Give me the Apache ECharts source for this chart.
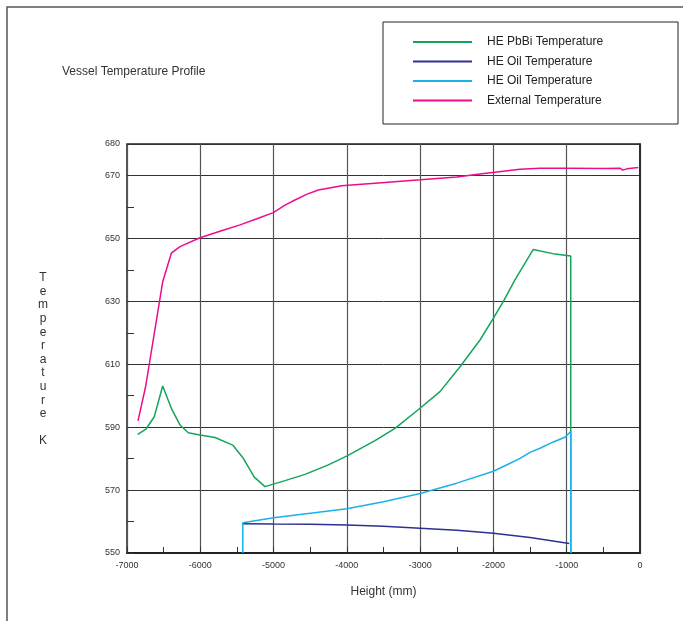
<!DOCTYPE html>
<html>
<head>
<meta charset="utf-8">
<script src="https://cdn.jsdelivr.net/npm/echarts@6/dist/echarts.min.js"></script>
<style>html,body{margin:0;padding:0;background:#fff}#c{width:683px;height:621px}</style>
</head>
<body>
<div id="c"></div>
<script>
// Legend names (second oil entry gets a trailing space so the legend keeps both; trimmed on display)
var seriesNames = ['HE PbBi Temperature', 'HE Oil Temperature', 'HE Oil Temperature ', 'External Temperature'];
var pbbi = [[-6854,587.7],[-6741,589.4],[-6628,593.3],[-6513,603.1],[-6390,595.7],[-6277,590.7],[-6164,588.2],[-6004,587.5],[-5799,586.7],[-5558,584.3],[-5413,580.1],[-5263,574.1],[-5117,571.1],[-4844,573.0],[-4571,575.0],[-4253,578.0],[-4003,580.8],[-3616,585.7],[-3343,589.6],[-3002,596.0],[-2729,601.3],[-2456,609.2],[-2183,617.7],[-2002,624.6],[-1866,629.9],[-1706,636.8],[-1456,646.5],[-1160,645.0],[-945,644.4],[-945,550]];
var oilDark = [[-5420,559.3],[-5000,559.2],[-4500,559.1],[-4000,558.9],[-3500,558.5],[-3000,557.9],[-2500,557.2],[-2000,556.3],[-1500,554.9],[-965,553.0]];
var oilLight = [[-5420,550],[-5420,559.6],[-5000,561.2],[-4500,562.6],[-4000,564.1],[-3500,566.3],[-3000,568.9],[-2500,572.2],[-2000,576.0],[-1800,578.2],[-1638,580.1],[-1500,582.0],[-1365,583.3],[-1183,585.3],[-1024,586.8],[-945,588.6],[-945,550]];
var external = [[-6850,592],[-6745,603],[-6513,636.2],[-6395,645.3],[-6277,647.4],[-6004,650.2],[-5700,652.5],[-5458,654.3],[-5200,656.5],[-5004,658.2],[-4850,660.5],[-4708,662.2],[-4550,664],[-4390,665.4],[-4200,666.2],[-4071,666.7],[-3480,667.8],[-3000,668.6],[-2500,669.5],[-2184,670.5],[-1638,672.0],[-1365,672.3],[-1000,672.3],[-500,672.2],[-273,672.3],[-237,671.7],[-180,672.1],[-23,672.5]];
var colors = ['#12a65a', '#2e3192', '#1ab0ec', '#ec0c8c'];
var xMin = -7000, xMax = 0, xStep = 1000;
var yMin = 550, yMax = 680, yStep = 20, yMinorStep = 10;

var chart = echarts.init(document.getElementById('c'));
var font = 'Liberation Sans, Arial, sans-serif';
function mk(i, data) {
  return {
    name: seriesNames[i], type: 'line', data: data, showSymbol: false, symbol: 'none',
    color: colors[i], lineStyle: {color: colors[i], width: 1.5}, yAxisIndex: 0, z: 3 + i
  };
}
chart.setOption({
  animation: false,
  backgroundColor: '#fff',
  title: {
    text: 'Vessel Temperature Profile', left: 57, top: 61,
    textStyle: {fontFamily: font, fontSize: 12, fontWeight: 'normal', color: '#333'}
  },
  legend: {
    orient: 'vertical', left: 408, top: 30, itemWidth: 59, itemHeight: 2, itemGap: 5.5,
    icon: 'rect',
    data: seriesNames.map(function (n) { return {name: n}; }),
    formatter: function (n) { return n.trim(); },
    selectedMode: false,
    textStyle: {fontFamily: font, fontSize: 12, color: '#222', lineHeight: 14, padding: [0, 0, 0, 10]}
  },
  grid: {left: 127, top: 144, right: 43, bottom: 68, show: true, borderColor: '#222', borderWidth: 1.5, backgroundColor: 'transparent'},
  xAxis: {
    type: 'value', min: xMin, max: xMax, interval: xStep,
    name: 'Height (mm)', nameLocation: 'middle', nameGap: 33,
    nameTextStyle: {fontFamily: font, fontSize: 12, color: '#333'},
    axisLine: {show: true, lineStyle: {color: '#222', width: 2}},
    axisTick: {show: true, inside: true, length: 6, lineStyle: {color: '#333'}},
    minorTick: {show: true, splitNumber: 2, length: 6, lineStyle: {color: '#333', width: 1}},
    axisLabel: {fontFamily: font, fontSize: 9, color: '#333', margin: 8, formatter: function (v) { return String(v); }},
    splitLine: {show: true, lineStyle: {color: '#555', width: 1.2}}
  },
  yAxis: [{
    type: 'value', min: yMin, max: yMax, interval: yStep, position: 'left',
    axisLine: {show: true, lineStyle: {color: '#222', width: 1.5}},
    axisTick: {show: false},
    axisLabel: {fontFamily: font, fontSize: 9, color: '#333', margin: 7, formatter: function (v) { return String(v); }},
    splitLine: {show: true, lineStyle: {color: '#333', width: 1}}
  }, {
    type: 'value', min: yMin, max: yMax, interval: yMinorStep, position: 'left',
    axisLine: {show: false}, axisLabel: {show: false}, splitLine: {show: false},
    axisTick: {show: true, inside: true, length: 7, lineStyle: {color: '#333', width: 1}}
  }],
  graphic: [
    {type: 'rect', shape: {x: 7, y: 7, width: 720, height: 720}, style: {fill: 'none', stroke: '#555', lineWidth: 1.5}, silent: true, z: -1},
    {type: 'rect', shape: {x: 383, y: 22, width: 295, height: 102}, style: {fill: '#fff', stroke: '#222', lineWidth: 1}, silent: true, z: -1},
    {type: 'text', x: 43, y: 271, style: {
      text: 'T\ne\nm\np\ne\nr\na\nt\nu\nr\ne\n\nK', fontFamily: font, fontSize: 12, fill: '#333',
      lineHeight: 13.6, align: 'center', verticalAlign: 'top'
    }}
  ],
  series: [mk(0, pbbi), mk(1, oilDark), mk(2, oilLight), mk(3, external)]
});
</script>
</body>
</html>
